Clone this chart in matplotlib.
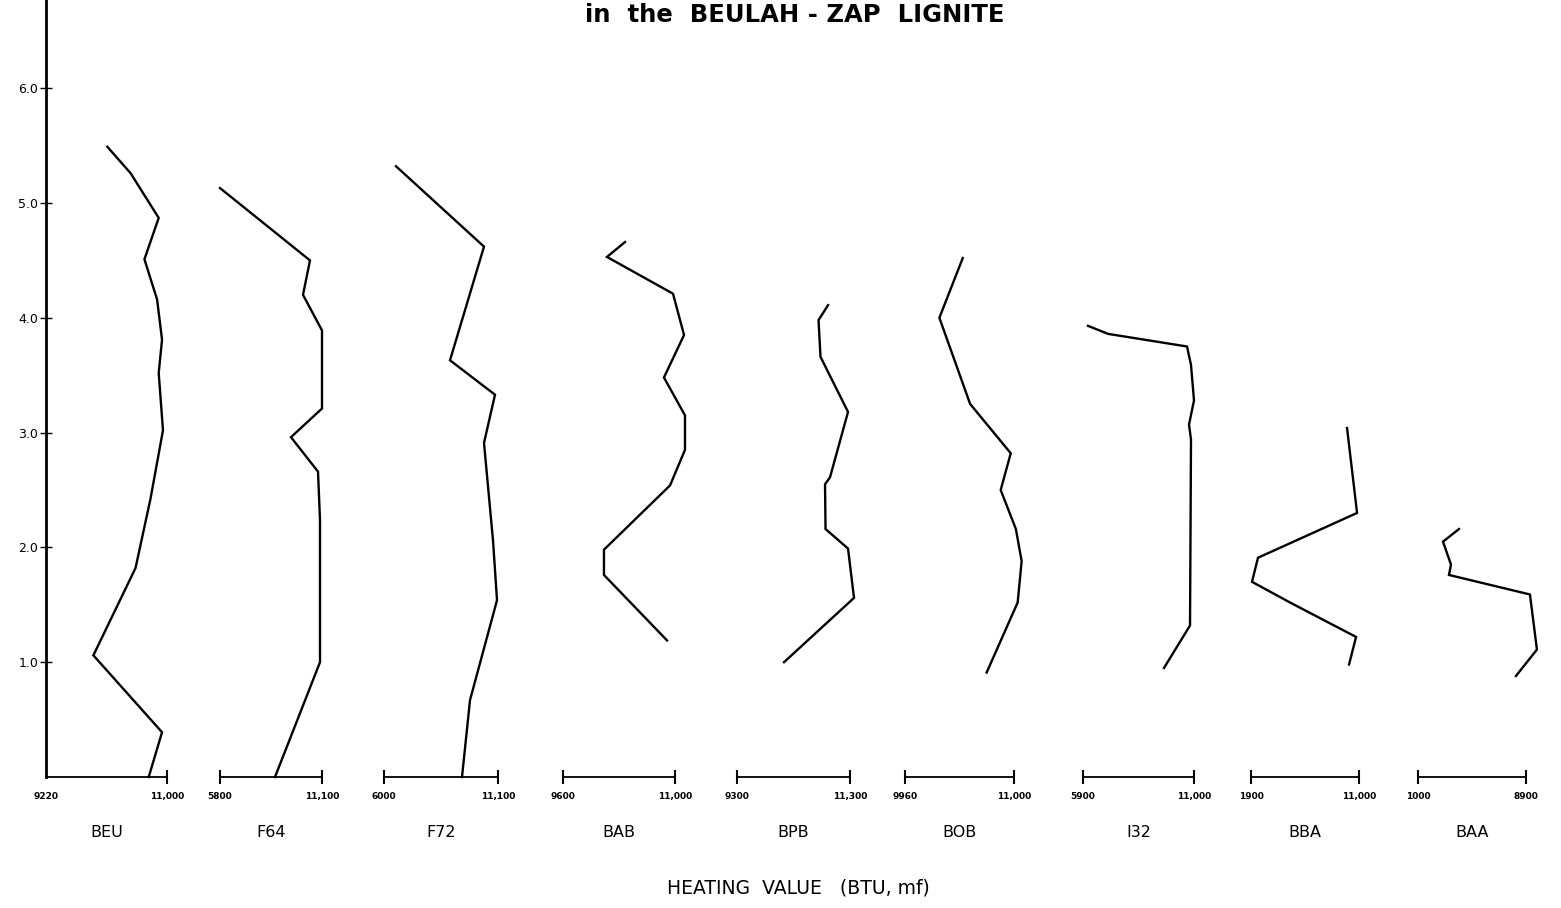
import matplotlib
matplotlib.use('Agg')
import matplotlib.pyplot as plt

plt.rcParams['font.family'] = ['DejaVu Sans']

# sites and the heating value scale under each profile (BTU, mf)
sites = ['BEU', 'F64', 'F72', 'BAB', 'BPB', 'BOB', 'I32', 'BBA', 'BAA']
scale_lo = [9220, 5800, 6000, 9600, 9300, 9960, 5900, 1900, 1000]
scale_hi = [11000, 11100, 11100, 11000, 11300, 11000, 11000, 11000, 8900]
lo_labels = ['9220', '5800', '6000', '9600', '9300', '9960', '5900', '1900', '1000']
hi_labels = ['11,000', '11,100', '11,100', '11,000', '11,300', '11,000', '11,000', '11,000', '8900']

# heights (m) and heating values
beu_h = [5.49, 5.26, 4.87, 4.51, 4.16, 3.81, 3.52, 3.02, 2.42, 1.82, 1.06, 0.39, 0.0]
beu_v = [10122, 10464, 10878, 10668, 10854, 10927, 10878, 10941, 10756, 10537, 9917, 10927, 10731]
f64_h = [5.13, 4.50, 4.20, 3.89, 3.21, 2.96, 2.66, 2.24, 1.00, 0.0]
f64_v = [5800, 10476, 10113, 11100, 11100, 9489, 10892, 10996, 10996, 8658]
f72_h = [5.32, 4.62, 3.63, 3.33, 2.91, 2.06, 1.54, 0.67, 0.0]
f72_v = [6537, 10474, 8953, 10966, 10474, 10877, 11056, 9848, 9490]
bab_h = [4.66, 4.53, 4.21, 3.85, 3.48, 3.15, 2.85, 2.54, 1.98, 1.76, 1.19]
bab_v = [10375, 10150, 10975, 11113, 10862, 11125, 11125, 10938, 10112, 10112, 10900]
bpb_h = [4.11, 3.98, 3.66, 3.18, 2.61, 2.55, 2.16, 1.99, 1.56, 1.00]
bpb_v = [10911, 10743, 10778, 11265, 10946, 10858, 10867, 11265, 11371, 10132]
bob_h = [4.52, 4.00, 3.25, 2.82, 2.50, 2.16, 1.88, 1.52, 0.91]
bob_v = [10511, 10288, 10581, 10969, 10873, 11018, 11073, 11035, 10739]
i32_h = [3.93, 3.86, 3.75, 3.59, 3.28, 3.07, 2.94, 1.32, 0.95]
i32_v = [6130, 7049, 10679, 10862, 11000, 10771, 10862, 10817, 9622]
bba_h = [3.04, 2.30, 1.91, 1.70, 1.52, 1.22, 0.98]
bba_v = [9993, 10836, 2490, 1984, 5188, 10752, 10161]
baa_h = [2.16, 2.05, 1.85, 1.76, 1.59, 1.11, 0.88]
baa_v = [3997, 2828, 3413, 3266, 9188, 9700, 8164]

heights = [beu_h, f64_h, f72_h, bab_h, bpb_h, bob_h, i32_h, bba_h, baa_h]
values = [beu_v, f64_v, f72_v, bab_v, bpb_v, bob_v, i32_v, bba_v, baa_v]

y_ticks = [1.0, 2.0, 3.0, 4.0, 5.0, 6.0]

# layout (pixels in the 1561x908 figure)
W, H = 1561, 908
base_px = 777
top_val = 777 / 114.8
bar_left = [46, 220, 384, 563, 737, 905, 1083, 1251, 1418]
bar_right = [167, 322, 498, 675, 850, 1014, 1194, 1359, 1526]

fig = plt.figure(figsize=(W / 100, H / 100), dpi=100)

ax = fig.add_axes([46 / W, (H - base_px) / H, 1480 / W, base_px / H])
ax.set_ylim(0, top_val)
ax.set_xlim(0, 1)
for s in ['top', 'right', 'bottom']:
    ax.spines[s].set_visible(False)
ax.spines['left'].set_linewidth(2)
ax.set_xticks([])
ax.set_yticks(y_ticks)
ax.set_yticklabels(['%.1f' % t for t in y_ticks], fontsize=9)
ax.tick_params(axis='y', direction='inout', length=9, width=1, pad=1)
ax.patch.set_alpha(0)

for i, name in enumerate(sites):
    x0, x1 = bar_left[i], bar_right[i]
    pax = fig.add_axes([x0 / W, (H - base_px) / H, (x1 - x0) / W, base_px / H])
    pax.set_xlim(scale_lo[i], scale_hi[i])
    pax.set_ylim(0, top_val)
    pax.axis('off')

    pax.plot(values[i], heights[i], color='black', lw=1.7, clip_on=False,
             solid_joinstyle='miter')

    # scale bar with end ticks
    pax.plot([scale_lo[i], scale_hi[i]], [0, 0], color='black', lw=1.3, clip_on=False)
    ends = [scale_hi[i]] if i == 0 else [scale_lo[i], scale_hi[i]]
    pax.plot(ends, [0] * len(ends), ls='none', marker='|', ms=10, mew=1.5,
             color='black', clip_on=False)

    pax.text(scale_lo[i], -0.17, lo_labels[i], ha='center', va='center',
             fontsize=6.5, fontweight='bold', clip_on=False)
    pax.text(scale_hi[i], -0.17, hi_labels[i], ha='center', va='center',
             fontsize=6.5, fontweight='bold', clip_on=False)
    pax.text((scale_lo[i] + scale_hi[i]) / 2, -0.48, name, ha='center', va='center',
             fontsize=11.5, clip_on=False)

fig.text(798 / W, 1 - 888 / H, 'HEATING  VALUE   (BTU, mf)', ha='center', va='center',
         fontsize=13.5)
fig.text(795 / W, 1 - 22 / H, 'in  the  BEULAH - ZAP  LIGNITE', ha='center',
         va='baseline', fontsize=17.5, fontweight='bold')

fig.savefig('out.png', dpi=100)
